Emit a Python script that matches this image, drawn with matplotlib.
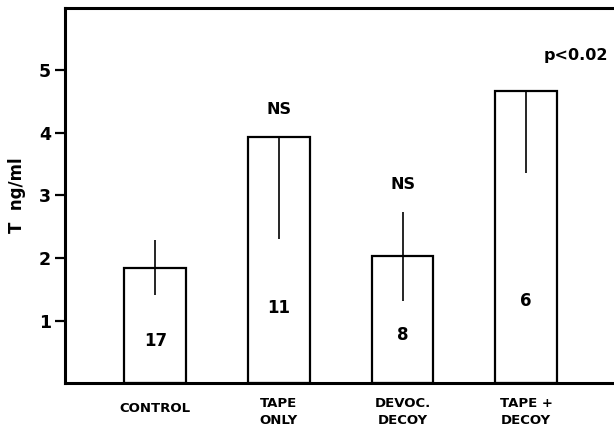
import matplotlib
matplotlib.use("Agg")
import matplotlib.pyplot as plt
import numpy as np

categories = ["CONTROL", "TAPE\nONLY", "DEVOC.\nDECOY", "TAPE +\nDECOY"]
means = [1.84, 3.94, 2.03, 4.68]
err_low = [0.43, 1.64, 0.72, 1.32]
err_high = [0.45, 0.0, 0.71, 0.0]
n_labels = ["17", "11", "8", "6"]
n_label_y = [0.68, 1.20, 0.76, 1.31]
sig_labels = ["", "NS", "NS", "p<0.02"]
sig_y = [0, 4.38, 3.17, 5.24]
sig_dx = [0, 0, 0, 0.40]
yticks = [1, 2, 3, 4, 5]

plt.rcParams['font.family'] = ['DejaVu Sans']
plt.rcParams['font.weight'] = 'bold'

fig = plt.figure(figsize=(6.14, 4.29), dpi=100)
ax_h_px = 383 - 8
ax = fig.add_axes([65/614, 46/429, 1 - 65/614, ax_h_px/429])

x = np.arange(len(categories))
ax.bar(x, means, width=0.5, color='white', edgecolor='black', linewidth=1.6, zorder=2)
ax.errorbar(x, means, yerr=[err_low, err_high], fmt='none', ecolor='black',
            elinewidth=1.2, capsize=0, zorder=3)

for xi, lab, yy in zip(x, n_labels, n_label_y):
    ax.text(xi, yy, lab, ha='center', va='center', fontsize=12, fontweight='bold')

for xi, lab, yy, dx in zip(x, sig_labels, sig_y, sig_dx):
    if lab:
        ax.text(xi + dx, yy, lab, ha='center', va='center', fontsize=11.5, fontweight='bold')

ax.set_xlim(-0.73, 3.71)
ax.set_ylim(0, 6)
ax.set_yticks(yticks)
ax.set_yticklabels([str(t) for t in yticks], fontsize=12.5, fontweight='bold')
ax.set_xticks(x)
ax.set_xticklabels([])
ax.tick_params(axis='x', length=0)
ax.tick_params(axis='y', length=7, width=1.6, direction='out', pad=3)
ax.set_ylabel("T  ng/ml", fontsize=12, fontweight='bold', labelpad=9)

# category labels under each bar (x from the data scale)
xtr = ax.get_xaxis_transform()
for xi, lab in zip(x, categories):
    top_px = 19 if "\n" not in lab else 14
    ax.text(xi, -top_px / ax_h_px, lab, transform=xtr, ha='center', va='top',
            fontsize=9.5, fontweight='bold', linespacing=1.45, clip_on=False)

for s in ['left', 'bottom', 'top']:
    ax.spines[s].set_linewidth(2.2)
ax.spines['right'].set_visible(False)

fig.savefig("out.png", dpi=100)
